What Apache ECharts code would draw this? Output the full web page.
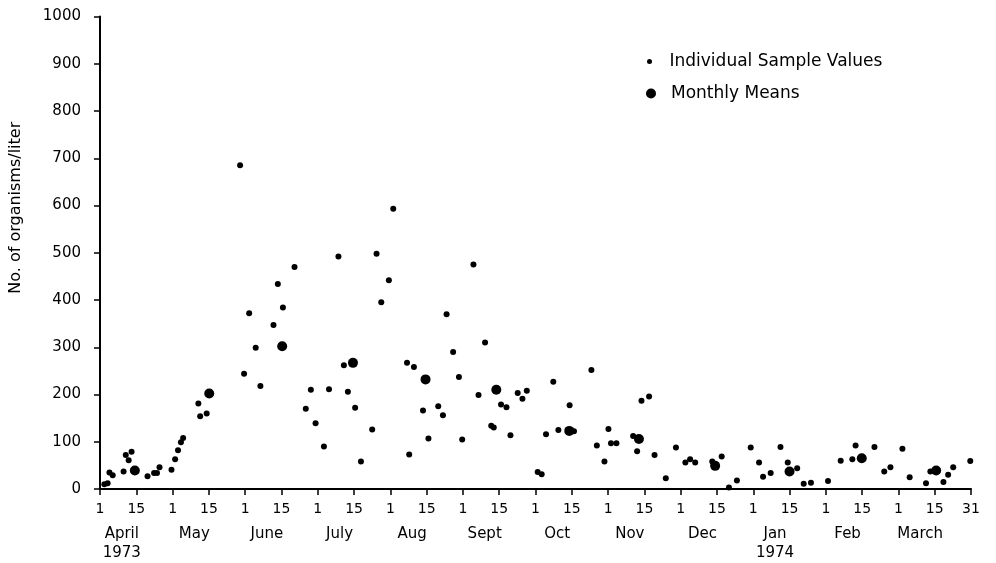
<!DOCTYPE html>
<html>
<head>
<meta charset="utf-8">
<script src="https://cdn.jsdelivr.net/npm/echarts@6/dist/echarts.min.js"></script>
<style>
html,body{margin:0;padding:0;background:#fff;}
#chart{width:996px;height:563px;}
</style>
</head>
<body>
<div id="chart"></div>
<script>
// x positions are in half-month tick units (0 = 1 April 1973, 24 = 31 March 1974)
const tickLabels = ['1','15','1','15','1','15','1','15','1','15','1','15','1','15','1','15','1','15','1','15','1','15','1','15','31'];
const monthLabels = ['April','May','June','July','Aug','Sept','Oct','Nov','Dec','Jan','Feb','March'];
const yearLabels = ['1973','','','','','','','','','1974','',''];

const sampleX = [0.12,0.21,0.26,0.35,0.65,0.71,0.79,0.87,1.31,1.49,1.57,1.64,1.97,2.07,2.15,2.23,2.29,2.71,2.76,2.94,
  3.86,3.97,4.11,4.29,4.42,4.78,4.90,5.04,5.36,5.67,5.81,5.94,6.17,6.31,6.57,6.72,6.83,7.03,7.19,7.50,
  7.62,7.75,7.96,8.08,8.46,8.52,8.65,8.90,9.05,9.32,9.45,9.55,9.73,9.89,9.98,10.29,10.43,10.61,10.78,10.85,
  11.05,11.20,11.31,11.51,11.64,11.76,12.06,12.17,12.29,12.49,12.63,12.94,13.06,13.54,13.69,13.90,14.01,14.08,14.23,14.69,
  14.80,14.92,15.13,15.28,15.59,15.87,16.13,16.26,16.40,16.87,17.13,17.33,17.55,17.93,18.16,18.27,18.48,18.75,18.95,19.21,
  19.39,19.59,20.06,20.41,20.73,20.82,21.34,21.61,21.78,22.11,22.31,22.76,22.88,23.24,23.37,23.51,23.98];
const sampleY = [10,12,35,29,37,72,61,79,27,34,34,46,41,63,82,99,108,181,154,160,
  685,244,372,299,218,347,434,384,470,170,210,139,90,211,492,262,206,172,58,126,
  498,395,442,593,267,73,258,166,107,175,156,370,290,237,105,475,199,310,134,130,
  179,173,114,203,191,208,36,31,116,227,125,177,122,252,92,58,127,97,97,112,
  80,187,196,72,23,88,56,63,56,58,69,3,18,88,56,26,34,89,56,44,
  11,13,17,60,63,92,89,37,46,85,25,12,37,15,30,46,59];

const meanX = [0.96,3.01,5.02,6.97,8.97,10.92,12.93,14.85,16.95,19.00,20.99,23.04];
const meanY = [39,202,302,267,232,210,123,106,49,37,65,39];

const yTicks = {min:0, max:1000, interval:100};

const FONT = 'DejaVu Sans';
const INK = '#000';

const chart = echarts.init(document.getElementById('chart'), null, {renderer:'canvas'});
chart.setOption({
  animation:false,
  backgroundColor:'#fff',
  grid:{left:97, right:25, top:16.5, bottom:73, containLabel:false},
  legend:[
    {data:['Individual Sample Values'], orient:'vertical', left:642, top:48,
     itemWidth:30, itemHeight:5, icon:'circle',
     textStyle:{fontFamily:FONT, fontSize:17, color:INK}},
    {data:['Monthly Means'], orient:'vertical', left:641, top:80,
     itemWidth:30, itemHeight:10, icon:'circle',
     textStyle:{fontFamily:FONT, fontSize:17, color:INK}}
  ],
  xAxis:[
    {type:'value', min:0, max:24, interval:1,
     axisLine:{show:true, onZero:false, lineStyle:{color:INK, width:2}},
     axisTick:{show:true, inside:false, length:6, lineStyle:{color:INK, width:1.5}},
     splitLine:{show:false},
     axisLabel:{margin:13, fontFamily:FONT, fontSize:14, color:INK,
       formatter:function(v){ return tickLabels[Math.round(v)] || ''; }}},
    {type:'value', min:0, max:24, interval:0.2, position:'bottom', offset:0,
     axisLine:{show:false}, axisTick:{show:false}, splitLine:{show:false},
     axisLabel:{margin:36, fontFamily:FONT, fontSize:15, color:INK, lineHeight:19,
       formatter:function(v){
         const k = Math.round((v-0.6)/2);
         if (k<0 || k>=monthLabels.length) return '';
         if (Math.abs(v-(2*k+0.6))>0.01) return '';
         return yearLabels[k] ? monthLabels[k]+'\n'+yearLabels[k] : monthLabels[k];
       }}}
  ],
  yAxis:{type:'value', min:yTicks.min, max:yTicks.max, interval:yTicks.interval,
    name:'No. of organisms/liter', nameLocation:'middle', nameGap:76, nameRotate:90,
    nameTextStyle:{fontFamily:FONT, fontSize:16, color:INK, padding:[0,0,0,90]},
    axisLine:{show:true, lineStyle:{color:INK, width:2}},
    axisTick:{show:true, inside:false, length:6, lineStyle:{color:INK, width:1.5}},
    splitLine:{show:false},
    axisLabel:{margin:19, fontFamily:FONT, fontSize:15, color:INK,
      formatter:function(v){ return String(v); }}},
  series:[
    {name:'Individual Sample Values', type:'scatter', symbol:'circle', symbolSize:6,
     itemStyle:{color:INK, opacity:1}, data:sampleX.map((x,i)=>[x, sampleY[i]]), z:3},
    {name:'Monthly Means', type:'scatter', symbol:'circle', symbolSize:10,
     itemStyle:{color:INK, opacity:1}, data:meanX.map((x,i)=>[x, meanY[i]]), z:4}
  ]
});
</script>
</body>
</html>
